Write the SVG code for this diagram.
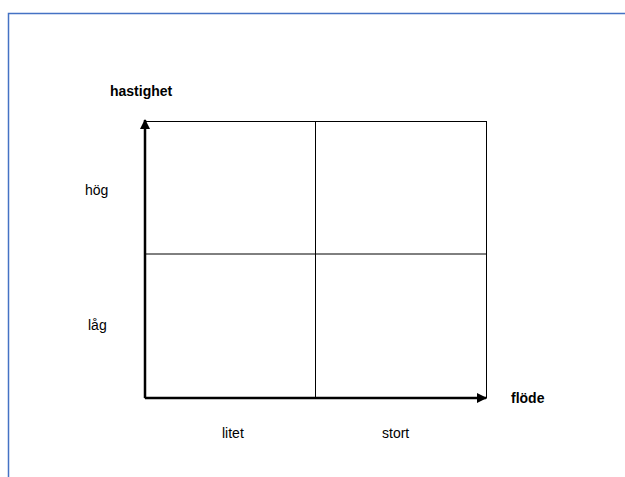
<svg xmlns="http://www.w3.org/2000/svg" width="625" height="477" viewBox="0 0 625 477">
<style>
.frame{stroke:#4472c4;stroke-width:1.5;fill:none}
.grid{stroke:#000;stroke-width:1;fill:none}
.axis{stroke:#000;stroke-width:2.5;fill:none}
.lbl{font-family:"Liberation Sans",Arial,sans-serif;font-size:14px;fill:#000}
.b{font-weight:bold}
</style>
<defs>
<marker id="ah" viewBox="0 0 10 10" refX="9" refY="5" markerWidth="4" markerHeight="4" orient="auto" markerUnits="strokeWidth">
<path d="M0,0 L10,5 L0,10 z" fill="#000"/>
</marker>
</defs>
<rect width="625" height="477" fill="#fff"/>
<g id="frame">
<path class="frame" d="M8.5,477 V13.5 H625"/>
</g>
<g id="quadrants">
<rect class="grid" x="145" y="121.5" width="341.5" height="276.5"/>
<line class="grid" x1="315.5" y1="121.5" x2="315.5" y2="398"/>
<line class="grid" x1="145" y1="254" x2="486.5" y2="254"/>
</g>
<g id="connectors">
<line class="axis" x1="145" y1="398" x2="145" y2="120" marker-end="url(#ah)"/>
<line class="axis" x1="145" y1="398" x2="486" y2="398" marker-end="url(#ah)"/>
</g>
<g id="labels">
<text class="lbl b" x="110" y="96">hastighet</text>
<text class="lbl" x="85" y="195">hög</text>
<text class="lbl" x="88" y="330">låg</text>
<text class="lbl b" x="511" y="403">flöde</text>
<text class="lbl" x="222" y="438">litet</text>
<text class="lbl" x="382" y="438">stort</text>
</g>
</svg>
